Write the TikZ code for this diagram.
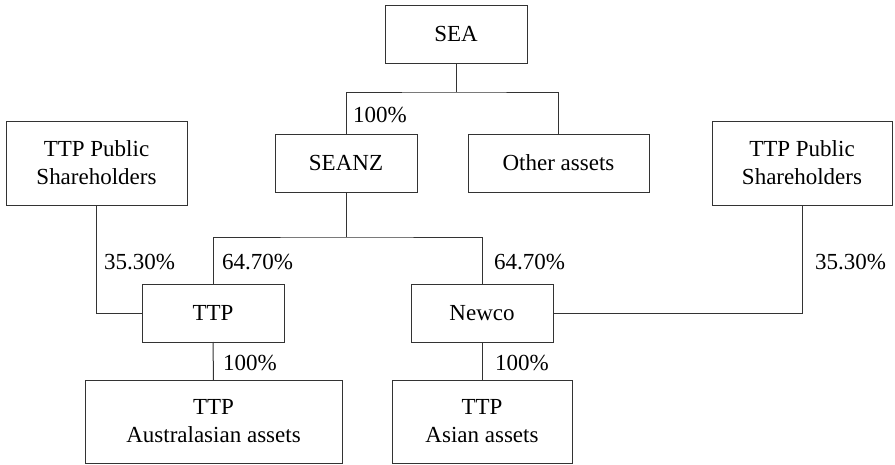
\documentclass[tikz,border=0pt]{standalone}
\usepackage{fontspec}
\setmainfont{Liberation Serif}
\usepackage{tikz}
\tikzstyle{orgbox} = [draw=black!80, line width=1pt, rectangle, outer sep=0pt,
    inner sep=2pt, align=center, minimum height=58pt, font=\fontsize{23}{28}\selectfont]
\tikzstyle{pct} = [anchor=west, inner sep=0pt, font=\fontsize{23}{28}\selectfont]
\tikzstyle{link} = [draw=black!80, line width=1pt]

\begin{document}
\begin{tikzpicture}[x=1pt,y=-1pt]
\useasboundingbox (0,0) rectangle (895,464);
\node [orgbox, minimum width=142pt] (sea) at (456,34) {SEA};
\node [orgbox, minimum width=142pt] (seanz) at (346,163) {SEANZ};
\node [orgbox, minimum width=181pt] (other) at (558.5,163) {Other assets};
\node [orgbox, minimum width=181pt, minimum height=84pt] (pubL) at (96.5,163) {TTP Public\\Shareholders};
\node [orgbox, minimum width=180pt, minimum height=84pt] (pubR) at (802,163) {TTP Public\\Shareholders};
\node [orgbox, minimum width=142pt] (ttp) at (213,313) {TTP};
\node [orgbox, minimum width=142pt] (newco) at (482,313) {Newco};
\node [orgbox, minimum width=257pt, minimum height=83pt] (ausa) at (213.5,421.5) {TTP\\Australasian assets};
\node [orgbox, minimum width=180pt, minimum height=83pt] (asia) at (482,421.5) {TTP\\Asian assets};
\coordinate (j1) at (456,92);
\coordinate (j2) at (346,237);
\draw [link] (sea.south) -- (j1);
\draw [link] (seanz.north) |- (j1) -| (other.north);
\draw [link] (seanz.south) -- (j2);
\draw [link] (ttp.north) |- (j2) -| (newco.north);
\draw [link] (pubL.south) |- (ttp.west);
\draw [link] (pubR.south) |- (newco.east);
\draw [link] (ttp.south) -- (ausa.north);
\draw [link] (newco.south) -- (asia.north);
\node [pct] (p1) at (353,115) {100\%};
\node [pct] (p2) at (104,262) {35.30\%};
\node [pct] (p3) at (222,262) {64.70\%};
\node [pct] (p4) at (494,262) {64.70\%};
\node [pct] (p5) at (815,262) {35.30\%};
\node [pct] (p6) at (223,363) {100\%};
\node [pct] (p7) at (495,363) {100\%};
\end{tikzpicture}
\end{document}
